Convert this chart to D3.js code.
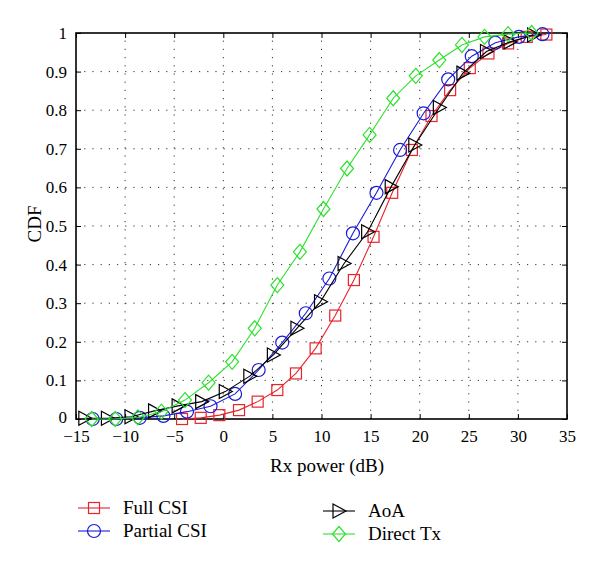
<!DOCTYPE html>
<html>
<head>
<meta charset="utf-8">
<script src="https://cdn.jsdelivr.net/npm/d3@7"></script>
<style>
  html, body { margin: 0; padding: 0; background: #fff; }
  svg { display: block; }
  svg text { font-family: "Liberation Serif", "DejaVu Serif", serif !important; fill: #000; }
</style>
</head>
<body>
<svg id="chart" width="600" height="570"></svg>
<script>
// ---- data ----
const fullX    = [-4.2, -2.3, -0.4, 1.6, 3.5, 5.5, 7.4, 9.4, 11.4, 13.3, 15.3, 17.2, 19.2, 21.2, 23.1, 25.1, 27.0, 29.0, 30.9, 32.9];
const fullY    = [0, 0.003, 0.01, 0.023, 0.045, 0.075, 0.118, 0.183, 0.268, 0.36, 0.472, 0.586, 0.697, 0.785, 0.852, 0.909, 0.947, 0.973, 0.99, 0.996];
const partialX = [-13.3, -10.9, -8.5, -6.1, -3.7, -1.3, 1.2, 3.6, 6.0, 8.4, 10.8, 13.2, 15.6, 18.0, 20.4, 22.9, 25.3, 27.7, 30.1, 32.5];
const partialY = [0, 0, 0.003, 0.008, 0.019, 0.033, 0.065, 0.127, 0.198, 0.274, 0.364, 0.481, 0.586, 0.697, 0.792, 0.88, 0.94, 0.975, 0.99, 0.997];
const aoaX     = [-14.1, -11.8, -9.4, -7.0, -4.6, -2.2, 0.2, 2.7, 5.1, 7.5, 9.9, 12.3, 14.7, 17.1, 19.5, 22.0, 24.4, 26.8, 29.2, 31.6];
const aoaY     = [0.002, 0.002, 0.006, 0.021, 0.034, 0.045, 0.071, 0.111, 0.166, 0.235, 0.304, 0.403, 0.485, 0.602, 0.71, 0.807, 0.896, 0.952, 0.977, 0.995];
const directX  = [-13.4, -11.0, -8.7, -6.3, -3.9, -1.5, 0.9, 3.2, 5.5, 7.8, 10.2, 12.6, 14.9, 17.3, 19.6, 22.0, 24.3, 26.6, 29.0, 31.4];
const directY  = [0, 0, 0.004, 0.019, 0.049, 0.094, 0.148, 0.235, 0.347, 0.433, 0.544, 0.649, 0.736, 0.831, 0.889, 0.93, 0.969, 0.99, 0.997, 1.0];

const seriesNames = ["Full CSI", "Partial CSI", "AoA", "Direct Tx"];
const xTicks = [-15, -10, -5, 0, 5, 10, 15, 20, 25, 30, 35];
const yTicks = [0, 0.1, 0.2, 0.3, 0.4, 0.5, 0.6, 0.7, 0.8, 0.9, 1];
const xLabel = "Rx power (dB)";
const yLabel = "CDF";

// ---- layout ----
const L = 76, R = 567, T = 33, B = 419;
const svg = d3.select("#chart");
const x = d3.scaleLinear().domain([-15, 35]).range([L, R]);
const y = d3.scaleLinear().domain([0, 1]).range([B, T]);

const series = [
  { name: seriesNames[0], xs: fullX, ys: fullY, color: "#e8232b", marker: "square" },
  { name: seriesNames[1], xs: partialX, ys: partialY, color: "#1a1ad6", marker: "circle" },
  { name: seriesNames[2], xs: aoaX, ys: aoaY, color: "#000000", marker: "triangle" },
  { name: seriesNames[3], xs: directX, ys: directY, color: "#2ee02e", marker: "diamond" }
];

// grid
const grid = svg.append("g").attr("stroke", "#333").attr("stroke-width", 1).attr("stroke-dasharray", "1.2,7");
xTicks.slice(1, -1).forEach(t => {
  grid.append("line").attr("x1", x(t)).attr("x2", x(t)).attr("y1", B).attr("y2", T);
});
yTicks.slice(1, -1).forEach(t => {
  grid.append("line").attr("x1", L).attr("x2", R).attr("y1", y(t)).attr("y2", y(t));
});

// axes with inward ticks
const fmtY = d => d === 0 ? "0" : (d === 1 ? "1" : d3.format(".1f")(d));
const fmtX = d => d < 0 ? "\u2212" + Math.abs(d) : String(d);
const axB = svg.append("g").attr("transform", `translate(0,${B})`)
  .call(d3.axisBottom(x).tickValues(xTicks).tickSize(-5).tickPadding(11).tickFormat(fmtX));
const axT = svg.append("g").attr("transform", `translate(0,${T})`)
  .call(d3.axisTop(x).tickValues(xTicks).tickSize(-5).tickFormat(""));
const axL = svg.append("g").attr("transform", `translate(${L},0)`)
  .call(d3.axisLeft(y).tickValues(yTicks).tickSize(-5).tickPadding(9).tickFormat(fmtY));
const axR = svg.append("g").attr("transform", `translate(${R},0)`)
  .call(d3.axisRight(y).tickValues(yTicks).tickSize(-5).tickFormat(""));
[axB, axT, axL, axR].forEach(a => {
  a.attr("font-family", null).attr("font-size", null);
  a.select(".domain").remove();
  a.selectAll(".tick line").attr("stroke", "#000").attr("stroke-width", 1);
  a.selectAll("text").style("font-size", "17px").attr("fill", "#000");
});
// nudge the "0" y label up a touch so it clears the x labels
axL.selectAll(".tick").filter(d => d === 0).select("text").attr("dy", "0.2em");
svg.append("rect").attr("x", L).attr("y", T).attr("width", R - L).attr("height", B - T)
  .attr("fill", "none").attr("stroke", "#000").attr("stroke-width", 1.6);

// markers
function drawMarker(g, m, cx, cy, color) {
  if (m === "square") {
    g.append("rect").attr("x", cx - 5.5).attr("y", cy - 5.5).attr("width", 11).attr("height", 11)
      .attr("fill", "none").attr("stroke", color).attr("stroke-width", 1.2);
  } else if (m === "circle") {
    g.append("circle").attr("cx", cx).attr("cy", cy).attr("r", 6.5)
      .attr("fill", "none").attr("stroke", color).attr("stroke-width", 1.2);
  } else if (m === "triangle") {
    g.append("path").attr("d", `M${cx - 6},${cy - 7}L${cx + 7},${cy}L${cx - 6},${cy + 7}Z`)
      .attr("fill", "none").attr("stroke", color).attr("stroke-width", 1.2);
  } else if (m === "diamond") {
    g.append("path").attr("d", `M${cx},${cy - 7.5}L${cx + 6.5},${cy}L${cx},${cy + 7.5}L${cx - 6.5},${cy}Z`)
      .attr("fill", "none").attr("stroke", color).attr("stroke-width", 1.2);
  }
}

const line = d3.line().x(d => x(d[0])).y(d => y(d[1]));
series.forEach(s => {
  const pts = s.xs.map((v, i) => [v, s.ys[i]]);
  const g = svg.append("g");
  g.append("path").datum(pts).attr("d", line).attr("fill", "none")
    .attr("stroke", s.color).attr("stroke-width", 1.1);
  pts.forEach(p => drawMarker(g, s.marker, x(p[0]), y(p[1]), s.color));
});

// axis labels
svg.append("text").attr("x", 327).attr("y", 472).attr("text-anchor", "middle")
  .style("font-size", "19px").text(xLabel);
svg.append("text").attr("transform", "translate(41,224) rotate(-90)").attr("text-anchor", "middle")
  .style("font-size", "19px").text(yLabel);

// legend
const legPos = [
  { lx: 78, ly: 508 }, { lx: 78, ly: 531 },
  { lx: 323, ly: 511 }, { lx: 323, ly: 534 }
];
series.forEach((s, i) => {
  const p = legPos[i];
  const g = svg.append("g");
  g.append("line").attr("x1", p.lx).attr("x2", p.lx + 32).attr("y1", p.ly).attr("y2", p.ly)
    .attr("stroke", s.color).attr("stroke-width", 1.1);
  drawMarker(g, s.marker, p.lx + 16, p.ly, s.color);
  g.append("text").attr("x", p.lx + 45).attr("y", p.ly + 6).style("font-size", "19px").text(s.name);
});
</script>
</body>
</html>
